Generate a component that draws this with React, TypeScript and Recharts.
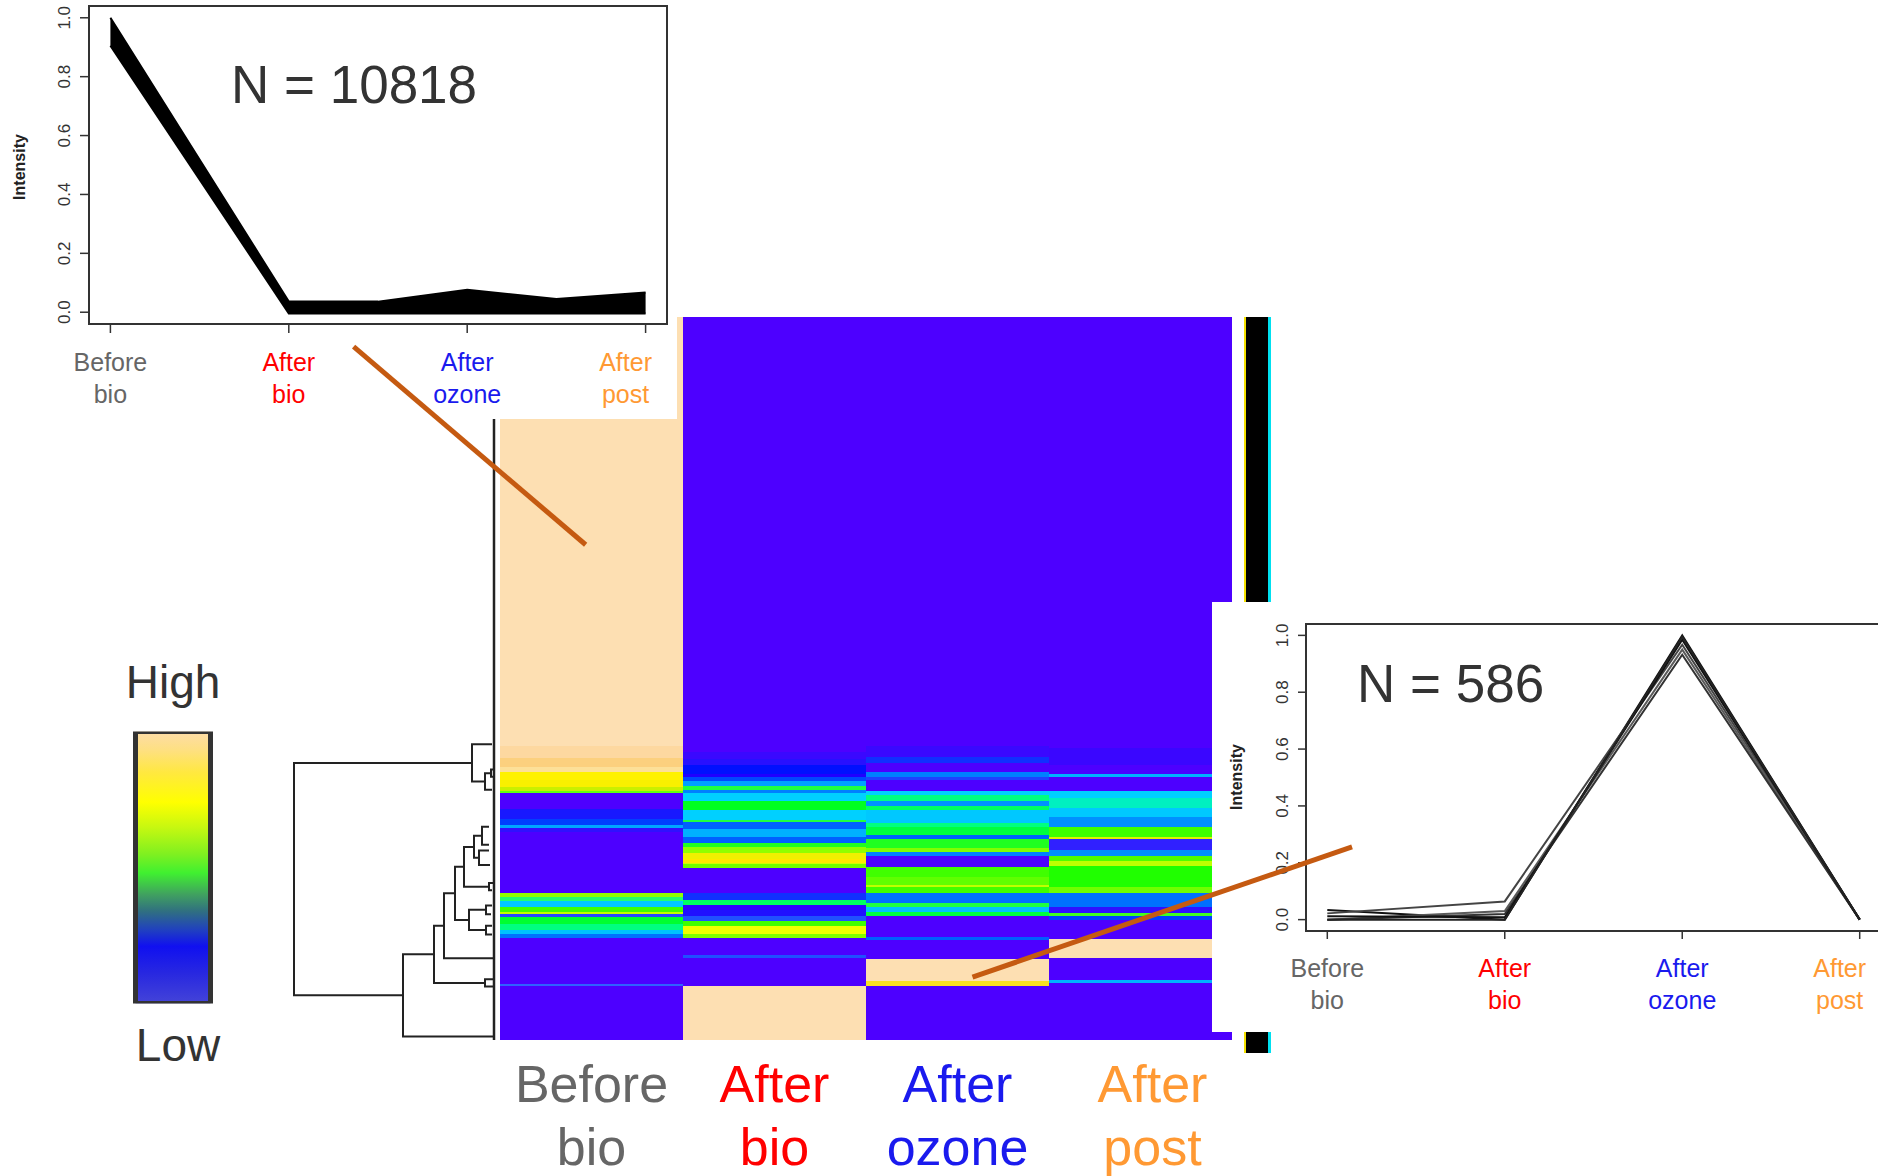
import React from 'react';
import {
  BarChart, Bar, Cell, XAxis, YAxis, ComposedChart, Area, LineChart, Line,
  ReferenceArea, ScatterChart, Scatter,
} from 'recharts';

const FONT = '"Liberation Sans", Arial, Helvetica, sans-serif';

// stages (columns of the heatmap, x ticks of the two profile plots)
const stages = ['Before bio', 'After bio', 'After ozone', 'After post'];
const stageLines = [['Before', 'bio'], ['After', 'bio'], ['After', 'ozone'], ['After', 'post']];
const stageColours = ['#666666', '#ff0000', '#1a1aee', '#ff9933'];

// heatmap palette ends
const V = '#4d00ff';
const P = '#fddfb2';

// heatmap bands per column: [row where the band ends (0 = top, 1000 = bottom), colour]
const beforeBioBands: [number, string][] = [
  [594, P], [610, '#fdd8a0'], [622, '#fcd07e'], [629, '#fde098'], [640, '#fff200'],
  [650, '#f8f000'], [655, '#c8f000'], [658, '#60ff10'], [680, V], [695, '#1818ff'],
  [702, '#0040ff'], [707, '#00a8ff'], [712, '#3010ff'], [797, V], [802, '#90ff00'],
  [808, '#20ff70'], [816, '#00c8ff'], [823, '#40ff00'], [826, '#c0ff00'], [830, '#2848ff'],
  [840, '#00ff30'], [848, '#00ff80'], [854, '#00c0ff'], [859, '#0070ff'], [922, V],
  [926, '#3060ff'], [1000, V],
];
const afterBioBands: [number, string][] = [
  [601, V], [612, '#3a08ff'], [620, '#2810ff'], [632, '#0010ff'], [636, '#2000ff'],
  [642, '#0048ff'], [649, '#00a0ff'], [654, '#20ff40'], [658, '#0080ff'], [670, '#00d0ff'],
  [682, '#00ff20'], [696, '#00d0ff'], [698, '#20ff40'], [708, '#0060ff'], [719, '#00b0ff'],
  [727, '#0060ff'], [733, '#20ff20'], [741, '#90ff00'], [750, '#f0f000'], [755, '#ffe800'],
  [757, '#d0ff00'], [762, '#70ff00'], [797, V], [806, '#1030ff'], [813, '#00ff60'],
  [820, '#3000ff'], [829, '#2010ff'], [836, '#2050ff'], [843, '#40ff00'], [854, '#f0ff00'],
  [859, '#80ff00'], [883, V], [887, '#2050ff'], [925, V], [1000, P],
];
const afterOzoneBands: [number, string][] = [
  [594, V], [608, '#3a08ff'], [617, '#1030ff'], [629, V], [636, '#0080ff'],
  [640, '#2040ff'], [656, V], [661, '#00d0ff'], [670, '#00ff80'], [677, '#0090ff'],
  [682, '#00ff60'], [700, '#00c8ff'], [705, '#00ff80'], [717, '#00ff40'], [722, '#0060ff'],
  [735, '#20ff20'], [740, '#80ff00'], [745, '#0080ff'], [761, V], [775, '#40ff00'],
  [785, '#60ff00'], [789, '#c0ff00'], [797, '#40ff00'], [811, '#0070ff'], [816, '#20ff40'],
  [823, '#00c0ff'], [829, '#00ff40'], [857, V], [862, '#0060ff'], [888, V],
  [919, P], [925, '#f8e020'], [1000, V],
];
const afterPostBands: [number, string][] = [
  [596, V], [619, '#3a06ff'], [632, V], [636, '#00b0ff'], [656, V],
  [665, '#00d0ff'], [679, '#00f0c0'], [692, '#00c8ff'], [705, '#0090ff'], [719, '#40ff00'],
  [722, '#e0f000'], [737, '#3020ff'], [745, '#0090ff'], [753, '#50ff00'], [760, '#c0ff00'],
  [789, '#20ff00'], [797, '#70ff00'], [816, '#0070ff'], [825, '#3010ff'], [829, '#40ff20'],
  [834, '#0040ff'], [860, V], [887, P], [917, V], [921, '#00b0ff'], [1000, V],
];
const heatColumns = [beforeBioBands, afterBioBands, afterOzoneBands, afterPostBands];

// row side colour bar: shares of yellow edge, black body, cyan edge
const sideShares = [2, 22, 3];
const sideColours = ['#f4e000', '#000000', '#00e0f0'];

// dendrogram merges: [height, upper child row, lower child row, upper child height, lower child height]
const dendroNodes: [number, number, number, number, number][] = [
  [200, 616.75, 938, 22, 91],
  [22, 591, 642.5, 2, 9],
  [9, 631, 654, 3, 2],
  [3, 626, 636, 1, 1],
  [91, 881.5, 995, 60, 0],
  [60, 842, 921, 50, 9],
  [9, 916, 926, 1, 1],
  [50, 797, 887, 39, 0],
  [39, 760.5, 834, 30, 25],
  [25, 820, 848, 8, 8],
  [8, 814, 826, 2, 3],
  [8, 842, 854, 2, 2],
  [30, 733, 788, 20, 5],
  [5, 783, 793, 1, 2],
  [20, 717.5, 748, 12, 15],
  [12, 705, 730, 5, 5],
  [15, 738, 758, 5, 4],
];
const leafSpan = [0, 1000];

// top-left profile plot (N = 10818): envelope of all profiles
const bandX = [0, 1, 1.5, 2, 2.5, 3];
const bandLow = [0.905, -0.004, -0.004, -0.004, -0.004, -0.004];
const bandHigh = [1.0, 0.036, 0.036, 0.076, 0.045, 0.067];

// right profile plot (N = 586)
const ozoneProfiles = [
  [0.034, 0.0, 1.0, 0.0],
  [0.022, 0.064, 0.967, 0.0],
  [0.0, 0.03, 0.95, 0.0],
  [0.0, 0.02, 0.932, 0.0],
  [0.012, 0.008, 0.985, 0.0],
  [0.0, 0.0, 0.995, 0.0],
];
const ozoneProfileColours = ['#111111', '#444444', '#5a5a5a', '#333333', '#111111', '#222222'];

const valueTicks = [0, 0.2, 0.4, 0.6, 0.8, 1.0];

// connectors, in heatmap coordinates (column edges 0..4, rows 0..1000)
const connectorTop = [{ col: -0.8, row: 41 }, { col: 0.468, row: 315 }];
const connectorBottom = [{ col: 2.582, row: 913 }, { col: 4.656, row: 733 }];

// legend gradient stops
const legendStops: [number, string][] = [
  [0, '#fddca8'], [0.07, '#fee080'], [0.15, '#ffe840'], [0.26, '#ffff00'], [0.35, '#c8f810'],
  [0.45, '#80f020'], [0.52, '#40f030'], [0.6, '#40a060'], [0.66, '#307080'], [0.73, '#2040c0'],
  [0.79, '#1010f0'], [0.89, '#2828e0'], [1, '#4444d8'],
];

// ---- derived tables ----
const segCount = Math.max(...heatColumns.map((b) => b.length));
const heatData = stages.map((stage, c) => {
  const row: Record<string, number | string> = { stage };
  let prev = 0;
  for (let i = 0; i < segCount; i++) {
    const band = heatColumns[c][i];
    row['s' + i] = band ? band[0] - prev : 0;
    if (band) prev = band[0];
  }
  return row;
});

const dendroLinks = dendroNodes.map(([h, y1, y2, h1, h2]) => [
  { h: h1, row: y1 }, { h, row: y1 }, { h, row: y2 }, { h: h2, row: y2 },
]);
const leafLine = leafSpan.map((row) => ({ h: 0, row }));

const bandData = bandX.map((x, i) => ({ x, range: [bandLow[i], bandHigh[i]] }));
const ozoneData = stages.map((_, i) => {
  const row: Record<string, number> = { x: i };
  ozoneProfiles.forEach((p, j) => { row['p' + j] = p[i]; });
  return row;
});
const sideData = [{ name: 'rows', ...Object.fromEntries(sideShares.map((v, i) => ['e' + i, v])) }];

const noDot = () => <g />;

function HeatStageTick(props: any) {
  const { x, y, payload } = props;
  const i = typeof props.index === 'number' ? props.index : stages.indexOf(payload.value);
  const [a, b] = stageLines[i];
  const dx = i === 3 ? 12 : 0;
  return (
    <g>
      <text x={x + dx} y={y + 62} textAnchor="middle" fontSize={52} fill={stageColours[i]} fontFamily={FONT}>{a}</text>
      <text x={x + dx} y={y + 125} textAnchor="middle" fontSize={52} fill={stageColours[i]} fontFamily={FONT}>{b}</text>
    </g>
  );
}

function InsetStageTick(props: any) {
  const { x, y, payload } = props;
  const i = Math.round(payload.value);
  const dx = i === 3 ? -20 : 0;
  const [a, b] = stageLines[i];
  return (
    <g>
      <text x={x + dx} y={y + 38} textAnchor="middle" fontSize={25} fill={stageColours[i]} fontFamily={FONT}>{a}</text>
      <text x={x + dx} y={y + 70} textAnchor="middle" fontSize={25} fill={stageColours[i]} fontFamily={FONT}>{b}</text>
    </g>
  );
}

function ValueTick(props: any) {
  const { x, y, payload } = props;
  const bx = x - 10;
  return (
    <text x={bx} y={y} transform={`rotate(-90 ${bx} ${y})`} textAnchor="middle" fontSize={17} fill="#333" fontFamily={FONT}>
      {Number(payload.value).toFixed(1)}
    </text>
  );
}

const abs = (left: number, top: number, extra: React.CSSProperties = {}): React.CSSProperties => ({
  position: 'absolute', left, top, ...extra,
});

function IntensityLabel({ cx, cy }: { cx: number; cy: number }) {
  return (
    <div style={abs(cx - 60, cy - 10, {
      width: 120, height: 20, lineHeight: '20px', textAlign: 'center', transform: 'rotate(-90deg)',
      fontSize: 16, fontWeight: 'bold', color: '#222', fontFamily: FONT,
    })}>Intensity</div>
  );
}

export default function App() {
  return (
    <div style={{ position: 'absolute', left: 0, top: 0, width: 1878, height: 1176, overflow: 'hidden', background: '#fff', fontFamily: FONT }}>
      <style>{'.crisp rect, .crisp path { shape-rendering: crispEdges; }'}</style>

      {/* dendrogram */}
      <div style={abs(289, 317)}>
        <ScatterChart width={210} height={723} margin={{ top: 0, right: 0, bottom: 0, left: 0 }}>
          <XAxis type="number" dataKey="h" domain={[-5, 205]} reversed hide allowDataOverflow />
          <YAxis type="number" dataKey="row" domain={[0, 1000]} reversed hide allowDataOverflow />
          <Scatter data={leafLine} line={{ stroke: '#222', strokeWidth: 2.5 }} lineType="joint" shape={noDot} isAnimationActive={false} />
          {dendroLinks.map((pts, i) => (
            <Scatter key={i} data={pts} line={{ stroke: '#222', strokeWidth: 2 }} lineType="joint" shape={noDot} isAnimationActive={false} />
          ))}
        </ScatterChart>
      </div>

      {/* heatmap */}
      <div className="crisp" style={abs(500, 317)}>
        <BarChart width={732} height={859} data={heatData} margin={{ top: 0, right: 0, bottom: 0, left: 0 }} barCategoryGap={0} barGap={0}>
          <XAxis dataKey="stage" height={136} axisLine={false} tickLine={false} tickSize={0} tickMargin={0} interval={0} tick={(p: any) => <HeatStageTick {...p} />} />
          <YAxis type="number" domain={[0, 1000]} reversed hide allowDataOverflow />
          {Array.from({ length: segCount }, (_, i) => (
            <Bar key={i} dataKey={'s' + i} stackId="h" isAnimationActive={false}>
              {heatColumns.map((bands, c) => (
                <Cell key={c} fill={bands[i] ? bands[i][1] : 'none'} />
              ))}
            </Bar>
          ))}
        </BarChart>
      </div>

      {/* row side colour bar */}
      <div className="crisp" style={abs(1244, 317)}>
        <BarChart width={27} height={736} data={sideData} layout="vertical" margin={{ top: 0, right: 0, bottom: 0, left: 0 }} barCategoryGap={0}>
          <XAxis type="number" hide domain={[0, 27]} allowDataOverflow />
          <YAxis type="category" dataKey="name" hide />
          {sideShares.map((_, i) => (
            <Bar key={i} dataKey={'e' + i} stackId="s" fill={sideColours[i]} isAnimationActive={false} />
          ))}
        </BarChart>
      </div>

      {/* colour legend */}
      <div style={abs(100, 659, { width: 146, textAlign: 'center', fontSize: 46, lineHeight: '46px', color: '#333' })}>High</div>
      <div style={abs(105, 1022, { width: 146, textAlign: 'center', fontSize: 46, lineHeight: '46px', color: '#333' })}>Low</div>
      <div style={abs(133, 729)}>
        <BarChart width={80} height={277} data={[{ k: 'scale', v: 1 }]} margin={{ top: 2.5, right: 2.5, bottom: 2.5, left: 2.5 }} barCategoryGap={0}>
          <defs>
            <linearGradient id="legendGrad" x1="0" y1="0" x2="0" y2="1">
              {legendStops.map(([o, c]) => <stop key={o} offset={o} stopColor={c} />)}
            </linearGradient>
          </defs>
          <XAxis dataKey="k" hide />
          <YAxis domain={[0, 1]} hide allowDataOverflow />
          <Bar dataKey="v" fill="url(#legendGrad)" stroke="#333" strokeWidth={5} isAnimationActive={false} />
        </BarChart>
      </div>

      {/* top-left profile plot */}
      <div style={abs(0, 0, { width: 677, height: 419, background: '#fff' })}>
        <ComposedChart width={677} height={419} data={bandData} margin={{ top: 6, right: 10, bottom: 0, left: 0 }}>
          <XAxis type="number" dataKey="x" domain={[-0.12, 3.12]} ticks={[0, 1, 2, 3]} allowDataOverflow height={95}
            axisLine={false} tickSize={9} tickMargin={0} interval={0} tickLine={{ stroke: '#333', strokeWidth: 1.5 }}
            tick={(p: any) => <InsetStageTick {...p} />} />
          <YAxis type="number" domain={[-0.04, 1.04]} ticks={valueTicks} allowDataOverflow width={89}
            axisLine={false} tickSize={9} tickMargin={0} interval={0} tickLine={{ stroke: '#333', strokeWidth: 1.5 }}
            tick={(p: any) => <ValueTick {...p} />} />
          <ReferenceArea x1={-0.12} x2={3.12} y1={-0.04} y2={1.04} fill="#fff" fillOpacity={0} stroke="#333" strokeWidth={2} />
          <Area type="linear" dataKey="range" fill="#000" fillOpacity={1} stroke="#000" strokeWidth={2} dot={false} activeDot={false} isAnimationActive={false} />
        </ComposedChart>
        <IntensityLabel cx={19.5} cy={167} />
        <div style={abs(231, 58, { fontSize: 53, lineHeight: '53px', color: '#333', whiteSpace: 'nowrap' })}>N = 10818</div>
      </div>

      {/* right profile plot */}
      <div style={abs(1212, 602, { width: 666, height: 430, background: '#fff' })}>
        <LineChart width={670} height={430} data={ozoneData} margin={{ top: 22, right: 1, bottom: 0, left: 0 }}>
          <XAxis type="number" dataKey="x" domain={[-0.12, 3.12]} ticks={[0, 1, 2, 3]} allowDataOverflow height={101}
            axisLine={false} tickSize={8} tickMargin={0} interval={0} tickLine={{ stroke: '#333', strokeWidth: 1.5 }}
            tick={(p: any) => <InsetStageTick {...p} />} />
          <YAxis type="number" domain={[-0.04, 1.04]} ticks={valueTicks} allowDataOverflow width={94}
            axisLine={false} tickSize={8} tickMargin={0} interval={0} tickLine={{ stroke: '#333', strokeWidth: 1.5 }}
            tick={(p: any) => <ValueTick {...p} />} />
          <ReferenceArea x1={-0.12} x2={3.12} y1={-0.04} y2={1.04} fill="#fff" fillOpacity={0} stroke="#333" strokeWidth={2} />
          {ozoneProfiles.map((_, j) => (
            <Line key={j} type="linear" dataKey={'p' + j} stroke={ozoneProfileColours[j]} strokeWidth={2} dot={false} activeDot={false} isAnimationActive={false} />
          ))}
        </LineChart>
        <IntensityLabel cx={25} cy={175} />
        <div style={abs(145, 55, { fontSize: 53, lineHeight: '53px', color: '#333', whiteSpace: 'nowrap' })}>N = 586</div>
      </div>

      {/* connectors between clusters and their profile plots */}
      <div style={abs(0, 0, { pointerEvents: 'none' })}>
        <ScatterChart width={1878} height={1176} margin={{ top: 0, right: 0, bottom: 0, left: 0 }}>
          <XAxis type="number" dataKey="col" domain={[-500 / 183, 1378 / 183]} hide allowDataOverflow />
          <YAxis type="number" dataKey="row" domain={[-317 / 0.723, 859 / 0.723]} reversed hide allowDataOverflow />
          <Scatter data={connectorTop} line={{ stroke: '#C55A11', strokeWidth: 5 }} lineType="joint" shape={noDot} isAnimationActive={false} />
          <Scatter data={connectorBottom} line={{ stroke: '#C55A11', strokeWidth: 5 }} lineType="joint" shape={noDot} isAnimationActive={false} />
        </ScatterChart>
      </div>
    </div>
  );
}
